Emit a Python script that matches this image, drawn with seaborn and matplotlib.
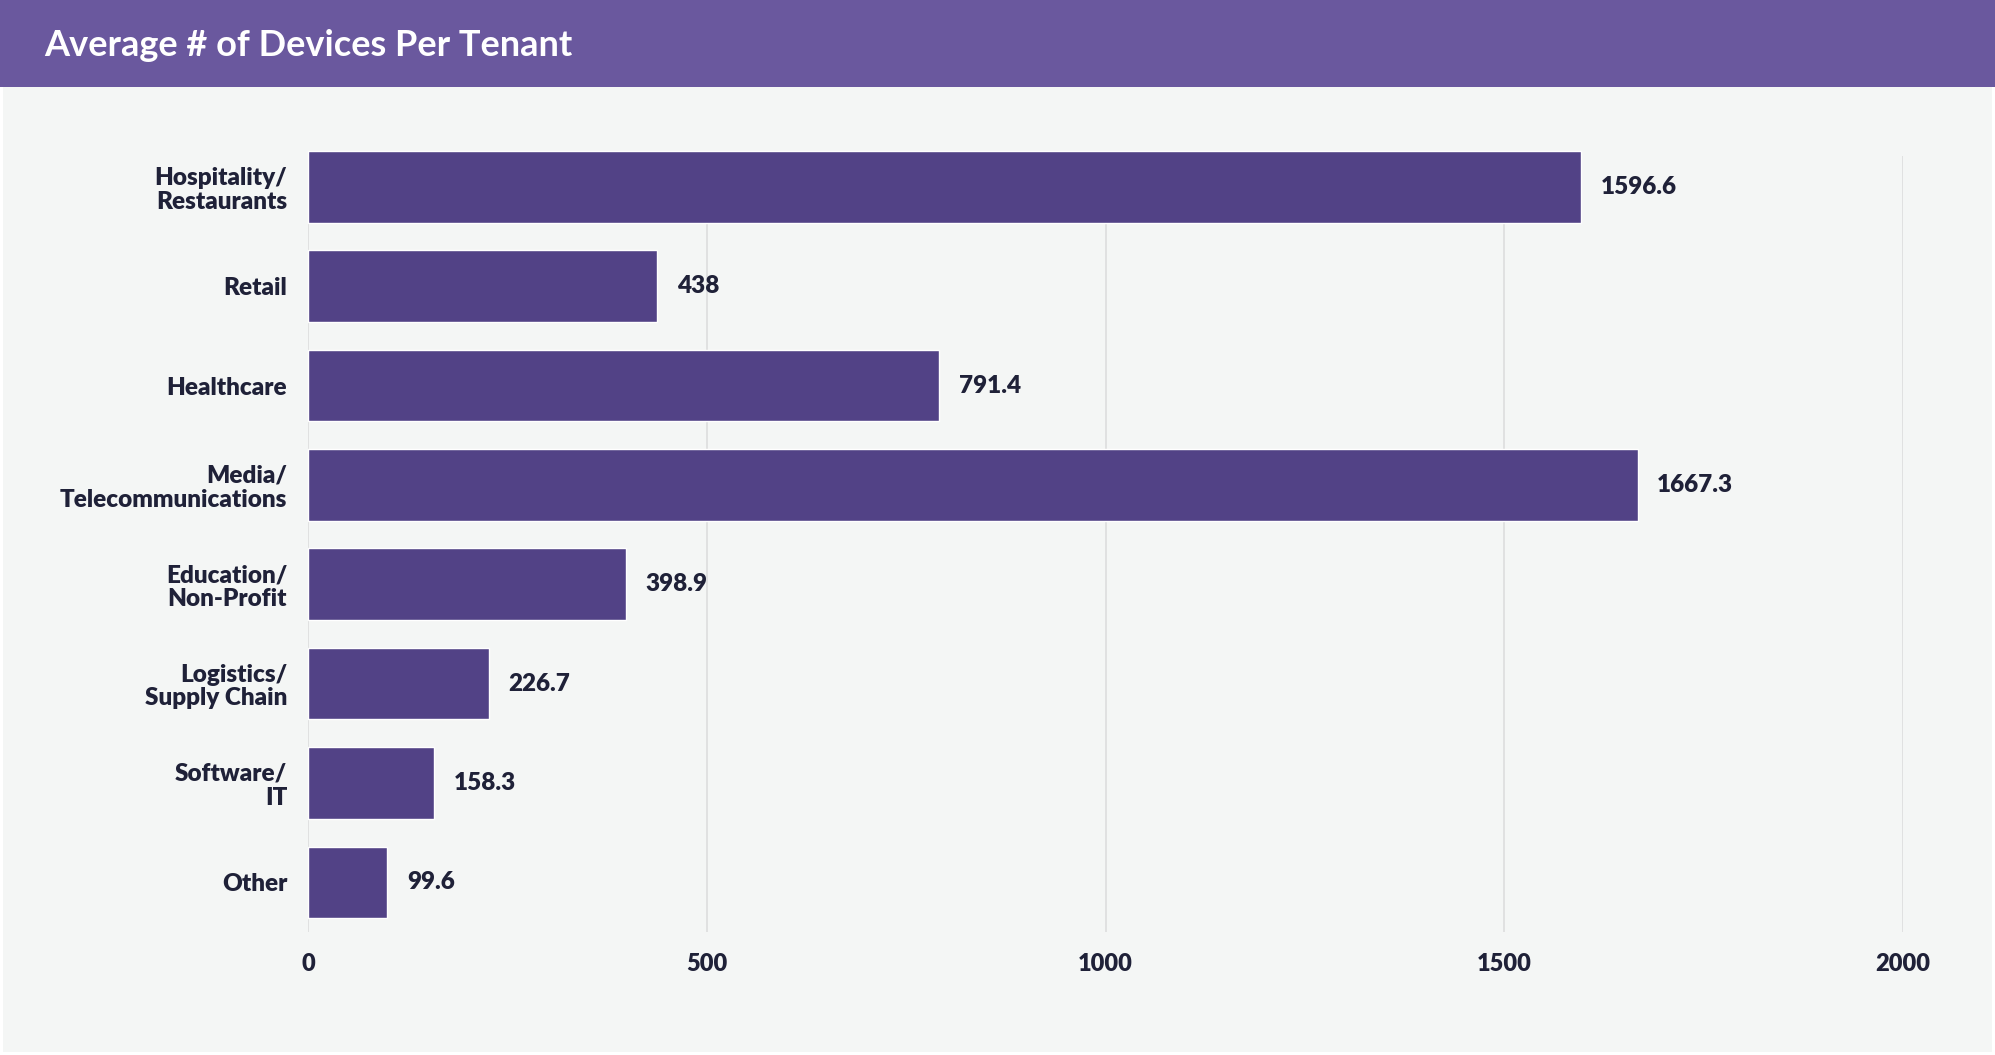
import matplotlib
matplotlib.use("Agg")
import matplotlib.pyplot as plt
import seaborn as sns
import pandas as pd
from matplotlib.patches import Rectangle

# Data
categories = [
    "Hospitality/\nRestaurants",
    "Retail",
    "Healthcare",
    "Media/\nTelecommunications",
    "Education/\nNon-Profit",
    "Logistics/\nSupply Chain",
    "Software/\nIT",
    "Other",
]
avg_devices = [1596.6, 438, 791.4, 1667.3, 398.9, 226.7, 158.3, 99.6]
value_labels = ["1596.6", "438", "791.4", "1667.3", "398.9", "226.7", "158.3", "99.6"]
x_ticks = [0, 500, 1000, 1500, 2000]
title = "Average # of Devices Per Tenant"

df = pd.DataFrame({"category": categories, "devices": avg_devices})

BG = "#f4f6f5"
HEADER = "#6a589e"
BAR = "#524286"
TEXT = "#1f2138"
GRID = "#dcdddd"
WEIGHT = "heavy"

sns.set_theme(style="white")
plt.rcParams["font.family"] = ["Lato", "DejaVu Sans"]

W, H = 1995, 1055
fig = plt.figure(figsize=(W / 100, H / 100), dpi=100, facecolor="white")

# Panel background and header band
fig.patches.append(Rectangle((3 / W, 3 / H), (W - 6) / W, (H - 90) / H,
                             transform=fig.transFigure, facecolor=BG,
                             edgecolor="none", zorder=-10))
fig.patches.append(Rectangle((0, (H - 87) / H), 1, 87 / H,
                             transform=fig.transFigure, facecolor=HEADER,
                             edgecolor="none", zorder=-5))
fig.text(44 / W, 1 - 45 / H, title, color="white", fontsize=26,
         fontweight="bold", ha="left", va="center")

left, right = 308 / W, 1903 / W
top, bottom = 1 - 156 / H, 1 - 932 / H
ax = fig.add_axes([left, bottom, right - left, top - bottom])
ax.set_zorder(2)
ax.patch.set_visible(False)

sns.barplot(data=df, x="devices", y="category", orient="h", color=BAR,
            saturation=1, width=0.72, ax=ax, zorder=3)
for bar in ax.patches:
    bar.set_clip_on(False)

ax.set_xlim(0, 2000)
ax.set_ylim(len(categories) - 0.5, -0.31)
ax.set_xticks(x_ticks)
ax.set_xticklabels([str(t) for t in x_ticks])
ax.set_xlabel("")
ax.set_ylabel("")

ax.set_axisbelow(True)
ax.grid(axis="x", color=GRID, linewidth=1.2)
ax.grid(axis="y", visible=False)
for s in ax.spines.values():
    s.set_visible(False)

ax.tick_params(axis="x", length=0, pad=15, labelsize=17, colors=TEXT)
ax.tick_params(axis="y", length=0, pad=15, labelsize=17.5, colors=TEXT)
for lbl in ax.get_xticklabels() + ax.get_yticklabels():
    lbl.set_fontweight(WEIGHT)
    lbl.set_linespacing(1.1)

for i, (v, txt) in enumerate(zip(avg_devices, value_labels)):
    ax.annotate(txt, xy=(v, i), xytext=(14, 0), textcoords="offset points",
                ha="left", va="center", fontsize=17.5, fontweight=WEIGHT,
                color=TEXT, zorder=4, annotation_clip=False)

fig.savefig("out.png", dpi=100, facecolor=fig.get_facecolor())
